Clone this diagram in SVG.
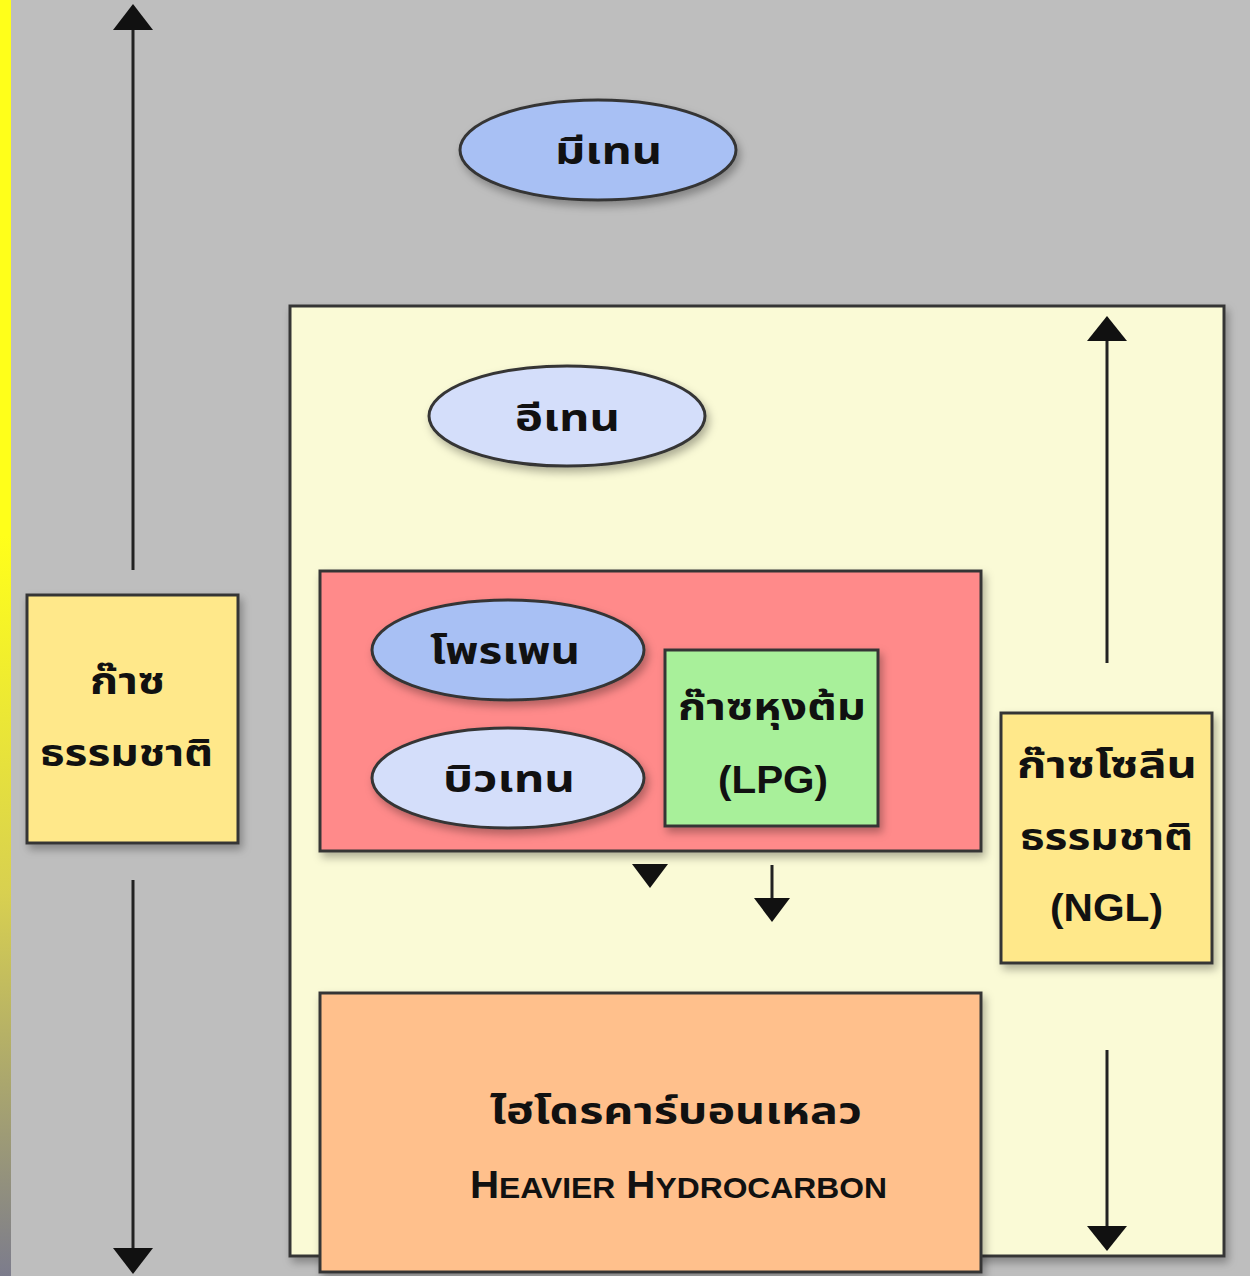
<svg xmlns="http://www.w3.org/2000/svg" width="1250" height="1276" viewBox="0 0 1250 1276">
<defs>
<linearGradient id="strip" x1="0" y1="0" x2="0" y2="1">
<stop offset="0" stop-color="#ffff1a"/>
<stop offset="0.42" stop-color="#ffff1a"/>
<stop offset="0.7" stop-color="#d8d050"/>
<stop offset="1" stop-color="#7c7c8c"/>
</linearGradient>
<filter id="sh" x="-10%" y="-10%" width="125%" height="130%">
<feDropShadow dx="3" dy="5" stdDeviation="4" flood-color="#000" flood-opacity="0.3"/>
</filter>
</defs>
<style>
.bx{stroke:#363636;stroke-width:3;filter:url(#sh)}
.t{font-family:"Noto Sans Thai","Loma","Garuda","Tahoma","DejaVu Sans","Noto Sans",sans-serif;font-weight:bold;font-size:37px;fill:#111;text-anchor:middle}
.l{font-family:"Liberation Sans",Arial,sans-serif;font-weight:bold;font-size:38px;fill:#111;text-anchor:middle}
.ln{stroke:#222;stroke-width:3;fill:none}
.tri{fill:#111}
</style>
<rect width="1250" height="1276" fill="#bebebe"/>
<rect x="0" y="0" width="11" height="1276" fill="url(#strip)"/>

<g id="outer-box">
<rect class="bx" x="290" y="306" width="934" height="950" fill="#fafad6"/>
</g>

<g id="connectors">
<line class="ln" x1="133" y1="570" x2="133" y2="28"/>
<polygon class="tri" points="133,4 113,30 153,30"/>
<line class="ln" x1="133" y1="880" x2="133" y2="1250"/>
<polygon class="tri" points="133,1274 113,1248 153,1248"/>
<line class="ln" x1="1107" y1="663" x2="1107" y2="338"/>
<polygon class="tri" points="1107,316 1087,341 1127,341"/>
<line class="ln" x1="1107" y1="1050" x2="1107" y2="1227"/>
<polygon class="tri" points="1107,1251 1087,1226 1127,1226"/>
<line class="ln" x1="772" y1="641" x2="772" y2="605"/>
<polygon class="tri" points="772,583 755,607 789,607"/>
<polygon class="tri" points="632,864 668,864 650,888"/>
<line class="ln" x1="772" y1="865" x2="772" y2="900"/>
<polygon class="tri" points="772,922 754,898 790,898"/>
</g>

<g id="natural-gas">
<rect class="bx" x="27" y="595" width="211" height="248" fill="#ffe88a"/>
<text class="t" x="127.5" y="694" textLength="75" lengthAdjust="spacingAndGlyphs">ก๊าซ</text>
<text class="t" x="126.5" y="766" textLength="173" lengthAdjust="spacingAndGlyphs">ธรรมชาติ</text>
</g>

<g id="methane">
<ellipse class="bx" cx="598" cy="150" rx="138" ry="50" fill="#a8c0f4"/>
<text class="t" x="608.5" y="164" textLength="107" lengthAdjust="spacingAndGlyphs">มีเทน</text>
</g>

<g id="ethane">
<ellipse class="bx" cx="567" cy="416" rx="138" ry="50" fill="#d4defa"/>
<text class="t" x="567.5" y="431" textLength="105" lengthAdjust="spacingAndGlyphs">อีเทน</text>
</g>

<g id="lpg-group">
<rect class="bx" x="320" y="571" width="661" height="280" fill="#ff8a8a"/>
</g>

<g id="propane">
<ellipse class="bx" cx="508" cy="650" rx="136" ry="50" fill="#a8c0f4"/>
<text class="t" x="505" y="664" textLength="150" lengthAdjust="spacingAndGlyphs">โพรเพน</text>
</g>

<g id="butane">
<ellipse class="bx" cx="508" cy="778" rx="136" ry="50" fill="#d4defa"/>
<text class="t" x="509" y="792" textLength="132" lengthAdjust="spacingAndGlyphs">บิวเทน</text>
</g>

<g id="lpg">
<rect class="bx" x="665" y="650" width="213" height="176" fill="#a8f09a"/>
<text class="t" x="772" y="720" textLength="188" lengthAdjust="spacingAndGlyphs">ก๊าซหุงต้ม</text>
<text class="l" x="773" y="793" textLength="110" lengthAdjust="spacingAndGlyphs">(LPG)</text>
</g>

<g id="ngl">
<rect class="bx" x="1001" y="713" width="211" height="250" fill="#ffe88a"/>
<text class="t" x="1107" y="778" textLength="180" lengthAdjust="spacingAndGlyphs">ก๊าซโซลีน</text>
<text class="t" x="1106.5" y="850" textLength="173" lengthAdjust="spacingAndGlyphs">ธรรมชาติ</text>
<text class="l" x="1106.5" y="921" textLength="113" lengthAdjust="spacingAndGlyphs">(NGL)</text>
</g>

<g id="heavier">
<rect class="bx" x="320" y="993" width="661" height="279" fill="#ffc08c"/>
<text class="t" x="676" y="1124" textLength="372" lengthAdjust="spacingAndGlyphs">ไฮโดรคาร์บอนเหลว</text>
<text class="l" x="678.5" y="1198" font-size="42" textLength="417" lengthAdjust="spacingAndGlyphs">H<tspan font-size="30">EAVIER</tspan> H<tspan font-size="30">YDROCARBON</tspan></text>
</g>
</svg>
